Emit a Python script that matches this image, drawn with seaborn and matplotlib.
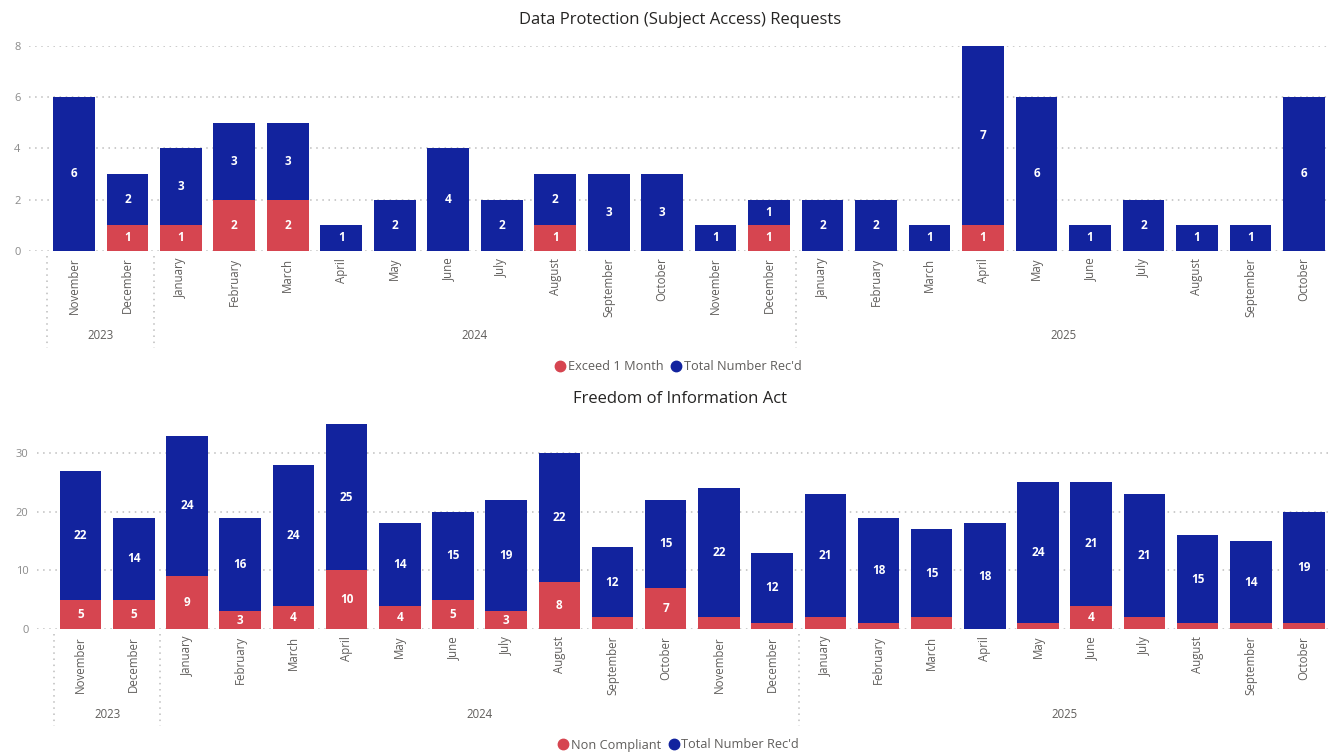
import numpy as np
import pandas as pd
import matplotlib
matplotlib.use("Agg")
import matplotlib.pyplot as plt
from matplotlib.lines import Line2D
import seaborn as sns

# ---- data -------------------------------------------------------------
months = ["November", "December",
          "January", "February", "March", "April", "May", "June", "July",
          "August", "September", "October", "November", "December",
          "January", "February", "March", "April", "May", "June", "July",
          "August", "September", "October"]
years = ["2023"] * 2 + ["2024"] * 12 + ["2025"] * 10

# Data Protection (Subject Access) Requests
sar_exceed = [0, 1, 1, 2, 2, 0, 0, 0, 0, 1, 0, 0, 0, 1,
              0, 0, 0, 1, 0, 0, 0, 0, 0, 0]
sar_total_recd = [6, 2, 3, 3, 3, 1, 2, 4, 2, 2, 3, 3, 1, 1,
                  2, 2, 1, 7, 6, 1, 2, 1, 1, 6]

# Freedom of Information Act
foi_non_compliant = [5, 5, 9, 3, 4, 10, 4, 5, 3, 8, 2, 7, 2, 1,
                     2, 1, 2, 0, 1, 4, 2, 1, 1, 1]
foi_total_recd = [22, 14, 24, 16, 24, 25, 14, 15, 19, 22, 12, 15, 22, 12,
                  21, 18, 15, 18, 24, 21, 21, 15, 14, 19]

# ---- style ------------------------------------------------------------
BLUE = "#12239E"
RED = "#D64550"
TICK_GREY = "#8a8a8a"
LABEL_GREY = "#605E5C"
TITLE_COL = "#252423"

sns.set_style("white")
plt.rcParams["font.family"] = ["Open Sans", "DejaVu Sans"]

W, H = 1329, 755
fig = plt.figure(figsize=(W / 100, H / 100), dpi=100)

slots = [f"{y}-{i:02d}" for i, y in enumerate(years)]
n = len(slots)
year_spans = [("2023", -0.5, 1.5), ("2024", 1.5, 13.5), ("2025", 13.5, 23.5)]


def draw_panel(rect, lower, upper, ymax, yticks, xlim_left, min_lower_label,
               title, title_y, lower_name, legend_y):
    ax = fig.add_axes(rect)
    df = pd.DataFrame({"slot": slots, "lower": lower, "upper": upper})
    df["stack"] = df["lower"] + df["upper"]

    sns.barplot(data=df, x="slot", y="stack", order=slots, color=BLUE,
                saturation=1, width=0.78, linewidth=0, ax=ax)
    sns.barplot(data=df, x="slot", y="lower", order=slots, color=RED,
                saturation=1, width=0.78, linewidth=0, ax=ax)

    # segment labels
    for i, (lo, up) in enumerate(zip(lower, upper)):
        if lo >= min_lower_label:
            ax.text(i, lo / 2, str(lo), ha="center", va="center",
                    color="white", fontsize=8.5, fontweight="bold")
        if up > 0:
            ax.text(i, lo + up / 2, str(up), ha="center", va="center",
                    color="white", fontsize=8.5, fontweight="bold")

    ax.set_xlim(xlim_left, n - 0.53)
    ax.set_ylim(0, ymax)
    ax.set_yticks(yticks)
    ax.set_yticklabels([str(t) for t in yticks], color=TICK_GREY, fontsize=8)
    ax.set_xticks(range(n))
    ax.set_xticklabels(months, rotation=90, color=LABEL_GREY, fontsize=8.3)
    ax.tick_params(axis="both", length=0)
    ax.tick_params(axis="x", pad=5)
    ax.tick_params(axis="y", pad=6)
    ax.set_xlabel("")
    ax.set_ylabel("")
    for s in ax.spines.values():
        s.set_visible(False)
    ax.set_axisbelow(True)
    ax.yaxis.grid(True, color="#bdbdbd", linestyle=(0, (1, 3)), linewidth=1.1)

    # year groups below the month labels
    h_px = rect[3] * H
    tr = ax.get_xaxis_transform()
    for label, a, b in year_spans:
        ax.text((a + b) / 2, -85 / h_px, label, transform=tr, ha="center",
                va="center", color=LABEL_GREY, fontsize=8.3)
    for x in [-0.5, 1.5, 13.5]:
        ax.plot([x, x], [-5 / h_px, -97 / h_px], transform=tr,
                color="#bdbdbd", linestyle=(0, (1, 3)), linewidth=1.1,
                clip_on=False)

    fig.text(0.512, title_y, title, ha="center", va="center",
             color=TITLE_COL, fontsize=12)

    handles = [Line2D([], [], marker="o", linestyle="", markersize=7.5,
                      markerfacecolor=RED, markeredgecolor=RED),
               Line2D([], [], marker="o", linestyle="", markersize=7.5,
                      markerfacecolor=BLUE, markeredgecolor=BLUE)]
    fig.legend(handles, [lower_name, "Total Number Rec'd"],
               loc="center", bbox_to_anchor=(0.51, legend_y), ncol=2,
               frameon=False, fontsize=9.2, labelcolor=LABEL_GREY,
               handletextpad=0.1, columnspacing=0.5, handlelength=1.0)
    return ax


draw_panel([29 / W, 1 - 250.7 / H, 1 - 29 / W, (250.7 - 46) / H],
           sar_exceed, sar_total_recd, 8, [0, 2, 4, 6, 8], -0.84, 1,
           "Data Protection (Subject Access) Requests", 1 - 20 / H,
           "Exceed 1 Month", 1 - 367 / H)

draw_panel([37 / W, 1 - 629 / H, 1 - 37 / W, (629 - 415) / H],
           foi_non_compliant, foi_total_recd, 36.5, [0, 10, 20, 30], -0.82, 3,
           "Freedom of Information Act", 1 - 399 / H,
           "Non Compliant", 1 - 745 / H)

fig.savefig("out.png", dpi=100, facecolor="white")
